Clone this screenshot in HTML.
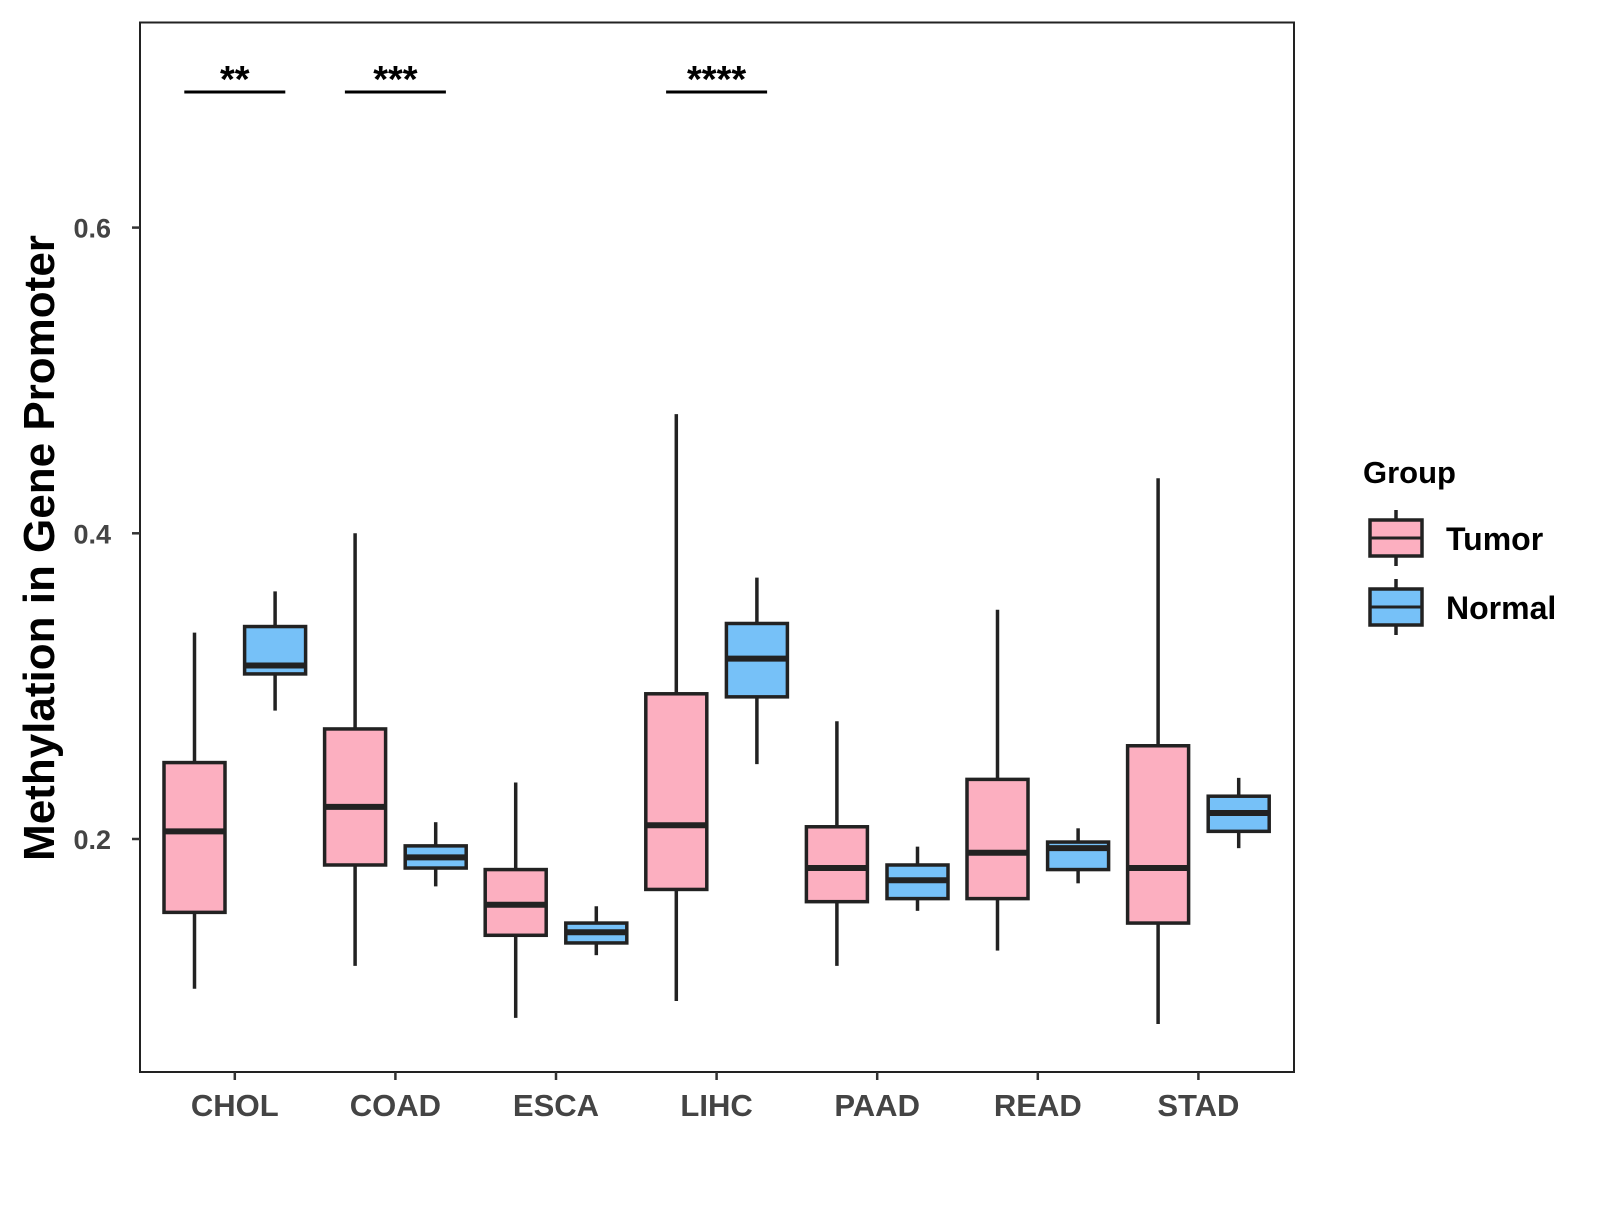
<!DOCTYPE html>
<html><head><meta charset="utf-8"><style>
body{margin:0;background:#fff}
svg text{font-family:"Liberation Sans",Arial,sans-serif;font-weight:bold}
</style></head><body>
<svg id="chart" width="1600" height="1200" xmlns="http://www.w3.org/2000/svg">
<rect x="140" y="22.5" width="1154" height="1049.5" fill="#fff" stroke="#222" stroke-width="2"/>
<g id="marks"></g>
<text transform="translate(54,548) rotate(-90)" text-anchor="middle" font-size="44" fill="#000">Methylation in Gene Promoter</text>
<g>
<text x="1363" y="483" font-size="31" fill="#000">Group</text>
</g>
</svg>
<script>
const categories=["CHOL","COAD","ESCA","LIHC","PAAD","READ","STAD"];
// [min, q1, median, q3, max]
const tumorStats=[[0.102,0.152,0.205,0.250,0.335],[0.117,0.183,0.221,0.272,0.400],[0.083,0.137,0.157,0.180,0.237],[0.094,0.167,0.209,0.295,0.478],[0.117,0.159,0.181,0.208,0.277],[0.127,0.161,0.191,0.239,0.350],[0.079,0.145,0.181,0.261,0.436]];
const normalStats=[[0.284,0.308,0.3135,0.339,0.362],[0.169,0.181,0.188,0.1955,0.211],[0.124,0.132,0.139,0.145,0.156],[0.249,0.293,0.318,0.341,0.371],[0.153,0.161,0.173,0.183,0.195],[0.171,0.180,0.194,0.198,0.207],[0.194,0.205,0.217,0.228,0.240]];
const yTicks=[0.2,0.4,0.6];
const sigLabels=["**","***","","****","","",""];
const groups=["Tumor","Normal"];
const fills=["#FCAFC0","#76C1F8"];

const NS="http://www.w3.org/2000/svg";
const g=document.getElementById('marks');
function y(v){return 839-(v-0.2)*1528.5;}
function x(i){return 234.8+i*160.6;}
function mk(tag,attrs,parent){const e=document.createElementNS(NS,tag);for(const k in attrs)e.setAttribute(k,attrs[k]);(parent||g).appendChild(e);return e;}

yTicks.forEach(t=>{
  const tk=mk('line',{x1:132,x2:140,y1:y(t),y2:y(t),stroke:'#333','stroke-width':2.5});
  
  
  const lb=mk('text',{x:111,y:y(t)+10,'text-anchor':'end','font-size':27,fill:'#444'});
  lb.textContent=t.toFixed(1);
  
  
});
categories.forEach((c,i)=>{
  const tk=mk('line',{x1:x(i),x2:x(i),y1:1072,y2:1080,stroke:'#333','stroke-width':2.5});
  
  
  const lb=mk('text',{x:x(i),y:1116,'text-anchor':'middle','font-size':31,fill:'#444'});
  lb.textContent=c;
  
  
  [tumorStats[i],normalStats[i]].forEach((s,j)=>{
    const cx=x(i)+(j?40.3:-40.3), w=61;
    const bg=mk('g',{});
    
    
    mk('line',{x1:cx,x2:cx,y1:y(s[4]),y2:y(s[3]),stroke:'#222','stroke-width':3.5},bg);
    mk('line',{x1:cx,x2:cx,y1:y(s[1]),y2:y(s[0]),stroke:'#222','stroke-width':3.5},bg);
    mk('rect',{x:cx-w/2,y:y(s[3]),width:w,height:y(s[1])-y(s[3]),fill:fills[j],stroke:'#222','stroke-width':3.5},bg);
    mk('line',{x1:cx-w/2,x2:cx+w/2,y1:y(s[2]),y2:y(s[2]),stroke:'#222','stroke-width':6},bg);
  });
  if(sigLabels[i]){
    const ln=mk('line',{x1:x(i)-50.5,x2:x(i)+50.5,y1:92,y2:92,stroke:'#000','stroke-width':3});
    
    
    const st=mk('text',{x:x(i),y:92,'text-anchor':'middle','font-size':38,fill:'#000'});
    st.textContent=sigLabels[i];
    
    
  }
});
groups.forEach((gr,j)=>{
  const top=520+j*69, kg=mk('g',{});
  
  
  mk('line',{x1:1396,x2:1396,y1:top-10,y2:top+46,stroke:'#222','stroke-width':3.5},kg);
  mk('rect',{x:1370,y:top,width:52,height:36,fill:fills[j],stroke:'#222','stroke-width':3.5},kg);
  mk('line',{x1:1370,x2:1422,y1:top+18,y2:top+18,stroke:'#222','stroke-width':3},kg);
  const t=mk('text',{x:1446,y:top+30,'font-size':32,fill:'#000'},kg);
  t.textContent=gr;
});
</script>
</body></html>
